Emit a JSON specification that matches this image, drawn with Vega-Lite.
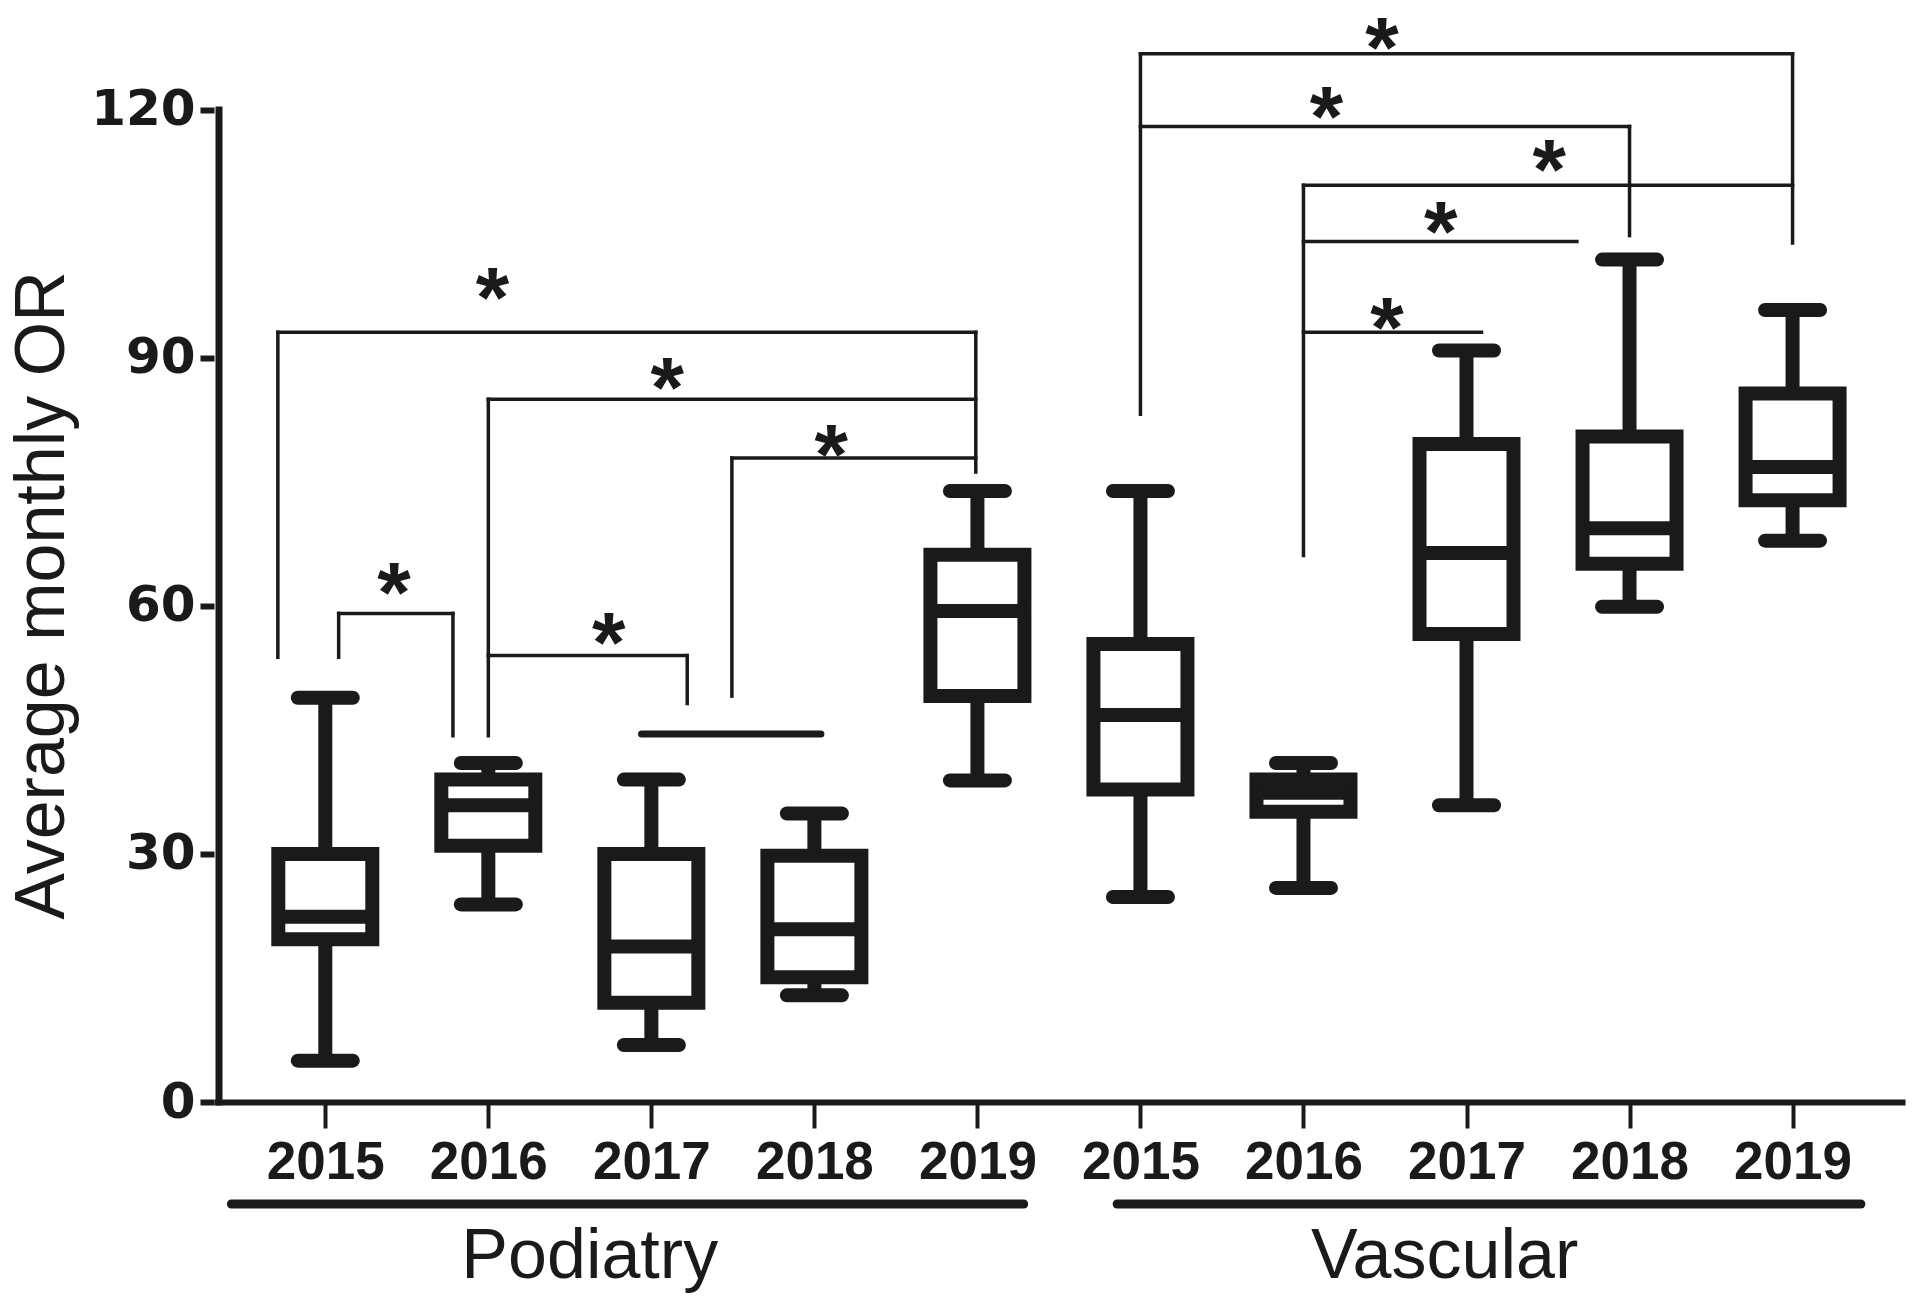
{
  "$schema": "https://vega.github.io/schema/vega-lite/v6.json",
  "width": 1691,
  "height": 1083,
  "autosize": {"type": "none"},
  "padding": {"left": 214, "top": 19, "right": 15, "bottom": 203},
  "background": "white",
  "config": {"view": {"stroke": null}, "font": "Liberation Sans"},
  "datasets": {
    "boxes": [
      {"pos": 1, "group": "Podiatry", "year": "2015", "min": 5.0, "q1": 19.7, "median": 22.4, "q3": 30.0, "max": 48.9},
      {"pos": 2, "group": "Podiatry", "year": "2016", "min": 23.9, "q1": 31.0, "median": 35.9, "q3": 39.0, "max": 41.0},
      {"pos": 3, "group": "Podiatry", "year": "2017", "min": 6.9, "q1": 12.0, "median": 18.8, "q3": 30.0, "max": 39.0},
      {"pos": 4, "group": "Podiatry", "year": "2018", "min": 12.9, "q1": 15.1, "median": 20.9, "q3": 29.8, "max": 34.9},
      {"pos": 5, "group": "Podiatry", "year": "2019", "min": 38.9, "q1": 49.1, "median": 59.4, "q3": 66.2, "max": 73.9},
      {"pos": 6, "group": "Vascular", "year": "2015", "min": 24.8, "q1": 37.8, "median": 46.8, "q3": 55.4, "max": 73.9},
      {"pos": 7, "group": "Vascular", "year": "2016", "min": 25.9, "q1": 35.1, "median": 37.4, "q3": 39.0, "max": 41.0},
      {"pos": 8, "group": "Vascular", "year": "2017", "min": 35.9, "q1": 56.6, "median": 66.4, "q3": 79.6, "max": 90.9},
      {"pos": 9, "group": "Vascular", "year": "2018", "min": 59.9, "q1": 65.1, "median": 69.4, "q3": 80.5, "max": 101.9},
      {"pos": 10, "group": "Vascular", "year": "2019", "min": 67.9, "q1": 72.8, "median": 76.8, "q3": 85.7, "max": 95.8}
    ],
    "brackets": [
      {"x1": 0.709, "x2": 4.99, "y1": 93.1, "y2": 93.1},
      {"x1": 2.0, "x2": 4.99, "y1": 85.0, "y2": 85.0},
      {"x1": 3.494, "x2": 4.99, "y1": 77.9, "y2": 77.9},
      {"x1": 1.082, "x2": 1.783, "y1": 59.1, "y2": 59.1},
      {"x1": 2.0, "x2": 3.22, "y1": 54.0, "y2": 54.0},
      {"x1": 6.0, "x2": 10.0, "y1": 126.8, "y2": 126.8},
      {"x1": 6.0, "x2": 9.0, "y1": 118.0, "y2": 118.0},
      {"x1": 7.0, "x2": 10.0, "y1": 110.9, "y2": 110.9},
      {"x1": 7.0, "x2": 8.677, "y1": 104.1, "y2": 104.1},
      {"x1": 7.0, "x2": 8.092, "y1": 93.1, "y2": 93.1},
      {"x1": 0.709, "x2": 0.709, "y1": 93.1, "y2": 53.8},
      {"x1": 4.99, "x2": 4.99, "y1": 93.1, "y2": 76.2},
      {"x1": 2.0, "x2": 2.0, "y1": 85.0, "y2": 44.3},
      {"x1": 3.494, "x2": 3.494, "y1": 77.9, "y2": 49.1},
      {"x1": 1.082, "x2": 1.082, "y1": 59.1, "y2": 53.8},
      {"x1": 1.783, "x2": 1.783, "y1": 59.1, "y2": 44.3},
      {"x1": 3.22, "x2": 3.22, "y1": 54.0, "y2": 48.2},
      {"x1": 6.0, "x2": 6.0, "y1": 126.8, "y2": 83.2},
      {"x1": 10.0, "x2": 10.0, "y1": 126.8, "y2": 103.9},
      {"x1": 9.0, "x2": 9.0, "y1": 118.0, "y2": 104.8},
      {"x1": 7.0, "x2": 7.0, "y1": 110.9, "y2": 66.1}
    ],
    "plain": [{"x1": 2.94, "x2": 4.04, "y": 44.5}],
    "stars": [
      {"x": 2.025, "y": 99.07, "label": "*"},
      {"x": 3.098, "y": 88.18, "label": "*"},
      {"x": 4.104, "y": 80.08, "label": "*"},
      {"x": 1.421, "y": 63.38, "label": "*"},
      {"x": 2.738, "y": 57.34, "label": "*"},
      {"x": 7.482, "y": 129.3, "label": "*"},
      {"x": 7.141, "y": 120.96, "label": "*"},
      {"x": 8.507, "y": 114.55, "label": "*"},
      {"x": 7.842, "y": 107.05, "label": "*"},
      {"x": 7.513, "y": 95.44, "label": "*"}
    ],
    "grouplines": [
      {"x1": 0.424, "x2": 5.284, "y": -12.34},
      {"x1": 5.857, "x2": 10.419, "y": -12.34}
    ],
    "grouplabels": [
      {"x": 2.622, "y": -21.29, "label": "Podiatry"},
      {"x": 7.866, "y": -21.29, "label": "Vascular"}
    ]
  },
  "layer": [
    {
      "data": {"name": "boxes"},
      "mark": {"type": "rule", "color": "#1a1a1a", "strokeWidth": 14},
      "encoding": {
        "x": {
          "field": "pos", "type": "quantitative",
          "scale": {"domain": [0.348, 10.659], "nice": false, "zero": false},
          "axis": {
            "values": [1, 2, 3, 4, 5, 6, 7, 8, 9, 10],
            "labelExpr": "'' + (datum.value <= 5 ? 2014 + datum.value : 2009 + datum.value)",
            "title": null, "grid": false,
            "domainWidth": 6, "domainColor": "#1a1a1a",
            "tickSize": 26, "tickWidth": 4, "tickColor": "#1a1a1a",
            "labelFont": "Liberation Sans", "labelFontWeight": "bold", "labelFontSize": 53,
            "labelColor": "#1a1a1a", "labelPadding": 8, "labelOverlap": false, "labelFlush": false
          }
        },
        "y": {
          "field": "min", "type": "quantitative",
          "scale": {"domain": [0, 131], "nice": false},
          "axis": {
            "values": [0, 30, 60, 90, 120],
            "domain": false, "grid": false,
            "tickSize": 14, "tickWidth": 6, "tickColor": "#1a1a1a",
            "labelFont": "DejaVu Sans", "labelFontWeight": "bold", "labelFontSize": 50,
            "labelColor": "#1a1a1a", "labelPadding": 5, "labelFlush": false,
            "title": "Average monthly OR",
            "titleFont": "Liberation Sans", "titleFontSize": 70, "titleFontWeight": "normal",
            "titleColor": "#1a1a1a", "titleAngle": -90, "titleAlign": "center",
            "titleBaseline": "alphabetic", "titleX": -151, "titleY": 576
          }
        },
        "y2": {"field": "max"}
      }
    },
    {
      "data": {"name": "boxes"},
      "mark": {"type": "rule", "color": "#1a1a1a", "strokeWidth": 14, "strokeCap": "round", "xOffset": -27.5, "x2Offset": 27.5},
      "encoding": {
        "x": {"field": "pos", "type": "quantitative"},
        "x2": {"field": "pos"},
        "y": {"field": "max", "type": "quantitative"}
      }
    },
    {
      "data": {"name": "boxes"},
      "mark": {"type": "rule", "color": "#1a1a1a", "strokeWidth": 14, "strokeCap": "round", "xOffset": -27.5, "x2Offset": 27.5},
      "encoding": {
        "x": {"field": "pos", "type": "quantitative"},
        "x2": {"field": "pos"},
        "y": {"field": "min", "type": "quantitative"}
      }
    },
    {
      "data": {"name": "boxes"},
      "mark": {"type": "bar", "width": 94, "fill": "white", "stroke": "#1a1a1a", "strokeWidth": 14},
      "encoding": {
        "x": {"field": "pos", "type": "quantitative"},
        "y": {"field": "q1", "type": "quantitative"},
        "y2": {"field": "q3"}
      }
    },
    {
      "data": {"name": "boxes"},
      "mark": {"type": "rule", "color": "#1a1a1a", "strokeWidth": 14, "xOffset": -47, "x2Offset": 47},
      "encoding": {
        "x": {"field": "pos", "type": "quantitative"},
        "x2": {"field": "pos"},
        "y": {"field": "median", "type": "quantitative"}
      }
    },
    {
      "data": {"name": "brackets"},
      "mark": {"type": "rule", "color": "#1a1a1a", "strokeWidth": 3.5, "strokeCap": "square"},
      "encoding": {
        "x": {"field": "x1", "type": "quantitative"},
        "x2": {"field": "x2"},
        "y": {"field": "y1", "type": "quantitative"},
        "y2": {"field": "y2"}
      }
    },
    {
      "data": {"name": "plain"},
      "mark": {"type": "rule", "color": "#1a1a1a", "strokeWidth": 7, "strokeCap": "round"},
      "encoding": {
        "x": {"field": "x1", "type": "quantitative"},
        "x2": {"field": "x2"},
        "y": {"field": "y", "type": "quantitative"}
      }
    },
    {
      "data": {"name": "stars"},
      "mark": {"type": "text", "font": "Liberation Sans", "fontWeight": "bold", "fontSize": 86, "color": "#1a1a1a", "align": "center", "baseline": "alphabetic", "dy": 44},
      "encoding": {
        "x": {"field": "x", "type": "quantitative"},
        "y": {"field": "y", "type": "quantitative"},
        "text": {"field": "label"}
      }
    },
    {
      "data": {"values": [{}]},
      "mark": {"type": "rule", "color": "#1a1a1a", "strokeWidth": 7, "strokeCap": "square"},
      "encoding": {
        "x": {"datum": 0.348, "type": "quantitative"},
        "y": {"datum": 0, "type": "quantitative"},
        "y2": {"datum": 120}
      }
    },
    {
      "data": {"name": "grouplines"},
      "mark": {"type": "rule", "color": "#1a1a1a", "strokeWidth": 9, "strokeCap": "round"},
      "encoding": {
        "x": {"field": "x1", "type": "quantitative"},
        "x2": {"field": "x2"},
        "y": {"field": "y", "type": "quantitative"}
      }
    },
    {
      "data": {"name": "grouplabels"},
      "mark": {"type": "text", "font": "Liberation Sans", "fontSize": 70, "color": "#1a1a1a", "align": "center", "baseline": "alphabetic"},
      "encoding": {
        "x": {"field": "x", "type": "quantitative"},
        "y": {"field": "y", "type": "quantitative"},
        "text": {"field": "label"}
      }
    }
  ]
}
